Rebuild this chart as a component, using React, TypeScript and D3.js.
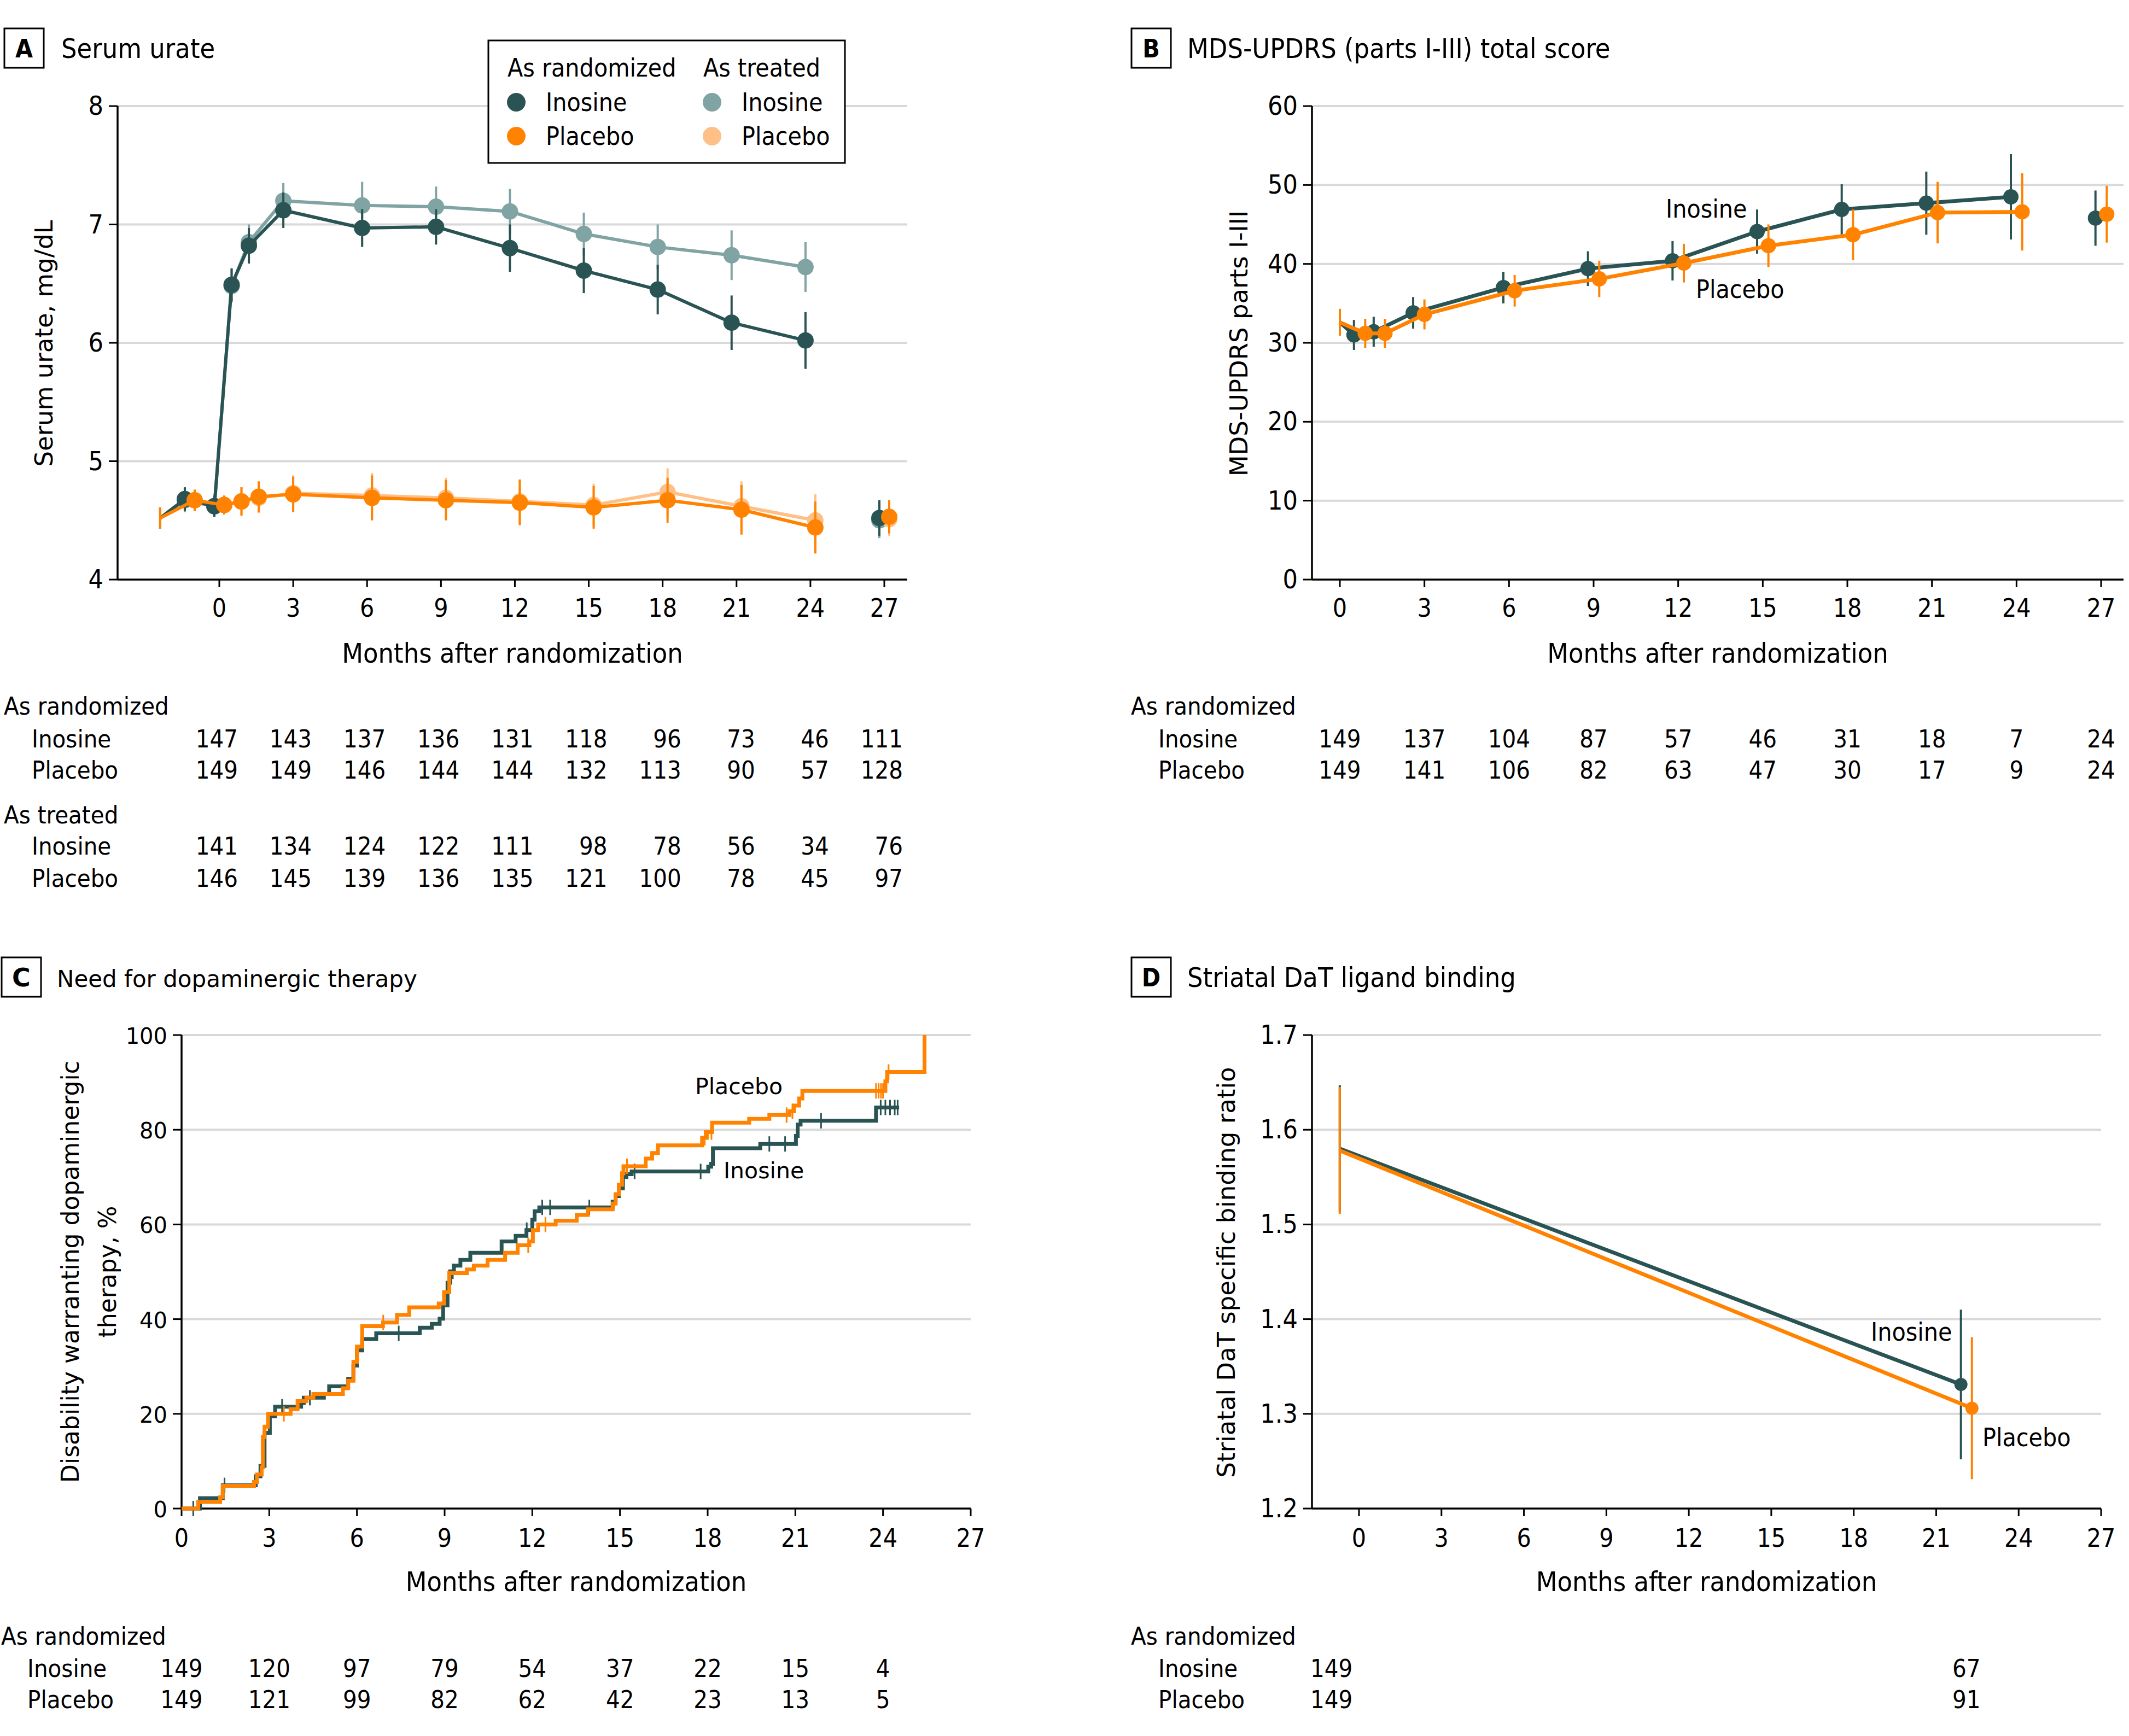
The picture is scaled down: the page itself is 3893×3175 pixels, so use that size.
import React from "react";
import * as d3 from "d3";

const W = 3893;
const H = 3175;
const COND = "'DejaVu Sans Condensed', 'Liberation Sans Narrow', 'DejaVu Sans', sans-serif";
const WIDE = "'DejaVu Sans', Verdana, sans-serif";
const DARK = "#2a5453";
const ORANGE = "#ff8300";
const TEAL_LIGHT = "#80a4a3";
const ORANGE_LIGHT = "#fec086";
const GRID = "#d9d9d9";

const monthTicks = [0, 3, 6, 9, 12, 15, 18, 21, 24, 27];

// A: serum urate
const urateMonthsIno = [-2.4, -1.4, -0.2, 0.5, 1.2, 2.6, 5.8, 8.8, 11.8, 14.8, 17.8, 20.8, 23.8];
const urateMonthsPla = [-2.4, -1.0, 0.2, 0.9, 1.6, 3.0, 6.2, 9.2, 12.2, 15.2, 18.2, 21.2, 24.2];
const urateInoRand = [4.52, 4.68, 4.62, 6.49, 6.82, 7.12, 6.97, 6.98, 6.8, 6.61, 6.45, 6.17, 6.02];
const urateInoRandErr = [0.09, 0.1, 0.09, 0.14, 0.15, 0.15, 0.16, 0.15, 0.2, 0.19, 0.21, 0.23, 0.24];
const urateInoTreat = [4.52, 4.67, 4.62, 6.48, 6.85, 7.2, 7.16, 7.15, 7.11, 6.92, 6.81, 6.74, 6.64];
const urateInoTreatErr = [0.09, 0.1, 0.09, 0.14, 0.15, 0.15, 0.2, 0.17, 0.19, 0.18, 0.19, 0.21, 0.21];
const uratePlaRand = [4.52, 4.67, 4.63, 4.66, 4.7, 4.72, 4.69, 4.67, 4.65, 4.61, 4.67, 4.59, 4.44];
const uratePlaRandErr = [0.09, 0.09, 0.08, 0.12, 0.13, 0.15, 0.19, 0.17, 0.19, 0.18, 0.19, 0.21, 0.22];
const uratePlaTreat = [4.52, 4.67, 4.63, 4.66, 4.69, 4.73, 4.71, 4.69, 4.66, 4.63, 4.74, 4.62, 4.5];
const uratePlaTreatErr = [0.09, 0.09, 0.08, 0.12, 0.13, 0.15, 0.19, 0.17, 0.19, 0.18, 0.2, 0.21, 0.22];
const urateEndMonths = [26.8, 27.2];
const urateEndRand = [4.52, 4.53];
const urateEndTreat = [4.5, 4.51];
const urateEndErr = [0.15, 0.14];

const tableAInoRand = [147, 143, 137, 136, 131, 118, 96, 73, 46, 111];
const tableAPlaRand = [149, 149, 146, 144, 144, 132, 113, 90, 57, 128];
const tableAInoTreat = [141, 134, 124, 122, 111, 98, 78, 56, 34, 76];
const tableAPlaTreat = [146, 145, 139, 136, 135, 121, 100, 78, 45, 97];

// B: MDS-UPDRS
const updrsMonthsIno = [0, 0.5, 1.2, 2.6, 5.8, 8.8, 11.8, 14.8, 17.8, 20.8, 23.8];
const updrsMonthsPla = [0, 0.9, 1.6, 3.0, 6.2, 9.2, 12.2, 15.2, 18.2, 21.2, 24.2];
const updrsIno = [32.6, 31.0, 31.4, 33.8, 37.0, 39.4, 40.4, 44.1, 46.9, 47.7, 48.5];
const updrsInoErr = [1.7, 1.9, 1.9, 2.0, 2.0, 2.2, 2.5, 2.8, 3.2, 4.0, 5.4];
const updrsPla = [32.6, 31.2, 31.2, 33.6, 36.6, 38.1, 40.1, 42.3, 43.7, 46.5, 46.6];
const updrsPlaErr = [1.7, 1.85, 1.85, 1.9, 2.0, 2.3, 2.45, 2.7, 3.2, 3.9, 4.9];
const updrsEnd = [45.8, 46.3];
const updrsEndErr = [3.5, 3.6];

const tableBIno = [149, 137, 104, 87, 57, 46, 31, 18, 7, 24];
const tableBPla = [149, 141, 106, 82, 63, 47, 30, 17, 9, 24];

// C: need for dopaminergic therapy (cumulative %)
const kmInoTimes = [0.63, 1.41, 2.54, 2.7, 2.84, 3.02, 3.2, 4.09, 4.18, 4.87, 5.05, 5.7, 5.88, 6.0, 6.18, 6.66, 8.15, 8.56, 8.83, 8.95, 9.1, 9.19, 9.32, 9.54, 9.88, 10.95, 11.43, 11.8, 12.0, 12.08, 12.24, 14.75, 14.85, 14.96, 15.1, 15.22, 15.4, 18.02, 18.12, 18.18, 19.8, 21.02, 21.08, 21.18, 23.76];
const kmInoPct = [2.2, 4.9, 6.8, 9.0, 16, 19.5, 21.5, 22.3, 23.4, 24.2, 25.8, 27.4, 30.2, 33.4, 35.8, 37.0, 38.2, 39.0, 40.1, 42.9, 47.7, 50.1, 51.3, 52.5, 54.0, 56.4, 57.6, 58.8, 61.0, 62.8, 63.6, 64.8, 66.0, 67.6, 70.0, 70.6, 71.2, 72.2, 72.8, 76.1, 77.0, 78.7, 81.1, 81.9, 84.7];
const kmInoEnd = 24.55;
const kmInoCensor = [0.4, 1.47, 3.44, 4.39, 7.43, 9.28, 11.81, 12.34, 12.61, 13.95, 15.5, 17.76, 20.11, 20.65, 21.88, 23.92, 24.08, 24.24, 24.4, 24.5];
const kmPlaTimes = [0.57, 1.32, 1.41, 2.48, 2.58, 2.74, 2.78, 2.84, 2.96, 3.73, 3.97, 4.27, 4.51, 5.52, 5.7, 5.88, 6.0, 6.18, 6.89, 7.37, 7.79, 8.8, 8.98, 9.16, 9.76, 10.0, 10.47, 11.07, 11.5, 11.9, 12.02, 12.2, 12.8, 13.52, 13.9, 14.75, 14.85, 14.96, 15.07, 15.12, 15.88, 16.1, 16.3, 17.81, 17.97, 18.15, 19.42, 20.11, 20.8, 20.96, 21.13, 21.24, 24.08, 24.14, 25.42];
const kmPlaPct = [1.4, 2.4, 4.8, 5.6, 7.2, 8.7, 15.1, 17.3, 20.0, 21.0, 22.7, 23.4, 24.2, 25.4, 27.0, 31.0, 34.2, 38.5, 39.3, 40.9, 42.5, 43.3, 45.7, 49.7, 50.5, 51.3, 52.5, 54.0, 55.6, 56.4, 58.8, 60.0, 60.8, 62.0, 63.2, 64.4, 66.4, 68.4, 70.8, 72.3, 73.9, 75.1, 76.7, 78.3, 79.5, 81.5, 82.3, 83.1, 83.9, 85.1, 86.6, 88.2, 90.2, 92.2, 100];
const kmPlaEnd = 25.42;
const kmPlaCensor = [3.5, 6.9, 11.86, 12.45, 15.24, 17.9, 18.13, 20.7, 20.9, 23.76, 23.85, 23.93, 24.0, 24.19];
const tableCMonths = [0, 3, 6, 9, 12, 15, 18, 21, 24];
const tableCIno = [149, 120, 97, 79, 54, 37, 22, 15, 4];
const tableCPla = [149, 121, 99, 82, 62, 42, 23, 13, 5];

// D: striatal DaT binding
const datMonthsIno = [-0.7, 21.9];
const datMonthsPla = [-0.7, 22.3];
const datIno = [1.58, 1.331];
const datInoErr = [0.067, 0.079];
const datPla = [1.578, 1.306];
const datPlaErr = [0.067, 0.075];
const tableDMonths = [-1, 22.1];
const tableDIno = [149, 67];
const tableDPla = [149, 91];

// scales
const xA = d3.scaleLinear().domain([0, 27]).range([401, 1617]);
const yA = d3.scaleLinear().domain([4, 8]).range([1060, 194]);
const xB = d3.scaleLinear().domain([0, 27]).range([2450, 3842]);
const yB = d3.scaleLinear().domain([0, 60]).range([1060, 194]);
const xC = d3.scaleLinear().domain([0, 27]).range([332, 1775]);
const yC = d3.scaleLinear().domain([0, 100]).range([2759, 1893]);
const xD = d3.scaleLinear().domain([0, 27]).range([2485, 3842]);
const yD = d3.scaleLinear().domain([1.2, 1.7]).range([2759, 1893]);

function Frame({ x, y, left, right, yTicks, fmt, tickFont, tickSize, xTitle, xTitleY, tickY }) {
  const [y0, y1] = y.range();
  return (
    <g>
      {yTicks.slice(1).map((t) => (
        <line key={"g" + t} x1={left} x2={right} y1={y(t)} y2={y(t)} stroke={GRID} strokeWidth={4} />
      ))}
      <line x1={left} x2={left} y1={y1} y2={y0} stroke="#000" strokeWidth={3.5} />
      <line x1={left} x2={right} y1={y0} y2={y0} stroke="#000" strokeWidth={3.5} />
      {yTicks.map((t) => (
        <g key={"y" + t}>
          <line x1={left - 16} x2={left} y1={y(t)} y2={y(t)} stroke="#000" strokeWidth={3} />
          <text x={left - 26} y={y(t) + 16} textAnchor="end" fontFamily={tickFont} fontSize={tickSize}>
            {fmt(t)}
          </text>
        </g>
      ))}
      {monthTicks.map((t) => (
        <g key={"x" + t}>
          <line x1={x(t)} x2={x(t)} y1={y0} y2={y0 + 14} stroke="#000" strokeWidth={3} />
          <text x={x(t)} y={tickY} textAnchor="middle" fontFamily={COND} fontSize={46}>
            {t}
          </text>
        </g>
      ))}
      <text x={(left + right) / 2} y={xTitleY} textAnchor="middle" fontFamily={COND} fontSize={50}>
        {xTitle}
      </text>
    </g>
  );
}

function Series({ xs, ys, errs, x, y, color, r, lw, ew, skipFirst, connect, opacity = 1 }) {
  const line = d3.line().x((d) => x(d[0])).y((d) => y(d[1]));
  const pts = xs.map((m, i) => [m, ys[i]]);
  return (
    <g opacity={opacity}>
      {connect && <path d={line(pts)} fill="none" stroke={color} strokeWidth={lw} strokeLinejoin="round" />}
      {xs.map((m, i) => (
        <line key={"e" + i} x1={x(m)} x2={x(m)} y1={y(ys[i] - errs[i])} y2={y(ys[i] + errs[i])} stroke={color} strokeWidth={ew} />
      ))}
      {xs.map((m, i) =>
        skipFirst && i === 0 ? null : <circle key={"c" + i} cx={x(m)} cy={y(ys[i])} r={r} fill={color} />
      )}
    </g>
  );
}

function Title({ bx, by, letter, text, letterFont, textFont, textSize, textX }) {
  return (
    <g>
      <rect x={bx} y={by} width={72} height={72} fill="#fff" stroke="#000" strokeWidth={3} />
      <text x={bx + 36} y={by + 53} textAnchor="middle" fontFamily={letterFont} fontWeight="bold" fontSize={46}>
        {letter}
      </text>
      <text x={textX} y={by + 54} fontFamily={textFont} fontSize={textSize}>
        {text}
      </text>
    </g>
  );
}

function YTitle({ x, cy, text, size = 45 }) {
  return (
    <text transform={`translate(${x},${cy}) rotate(-90)`} textAnchor="middle" fontFamily={WIDE} fontSize={size}>
      {text}
    </text>
  );
}

function Row({ label, lx, y, values, months, x, anchor, dx = 0 }) {
  return (
    <g fontFamily={COND} fontSize={45}>
      <text x={lx} y={y}>{label}</text>
      {values.map((v, i) => (
        <text key={i} x={x(months[i]) + dx} y={y} textAnchor={anchor}>
          {v}
        </text>
      ))}
    </g>
  );
}

function kmAt(times, pcts, t) {
  let v = 0;
  times.forEach((s, i) => {
    if (s <= t) v = pcts[i];
  });
  return v;
}

function KM({ times, pcts, end, censor, color }) {
  const pts = [[0, 0], ...times.map((t, i) => [t, pcts[i]]), [end, pcts[pcts.length - 1]]];
  const line = d3.line().x((d) => xC(d[0])).y((d) => yC(d[1])).curve(d3.curveStepAfter);
  return (
    <g>
      <path d={line(pts)} fill="none" stroke={color} strokeWidth={7} />
      {censor.map((t, i) => {
        const v = yC(kmAt(times, pcts, t));
        return <line key={i} x1={xC(t)} x2={xC(t)} y1={v - 14} y2={v + 14} stroke={color} strokeWidth={3} />;
      })}
    </g>
  );
}

export default function App() {
  const dec = (t) => d3.format(".1f")(t);
  const int = (t) => String(t);
  return (
    <svg width={W} height={H} style={{ position: "absolute", left: 0, top: 0, background: "#fff" }}>
      <rect width={W} height={H} fill="#fff" />

      {/* Panel A */}
      <Title bx={8} by={52} letter="A" text="Serum urate" letterFont={COND} textFont={COND} textSize={50} textX={112} />
      <Frame x={xA} y={yA} left={215} right={1659} yTicks={[4, 5, 6, 7, 8]} fmt={int} tickFont={COND} tickSize={48}
        xTitle="Months after randomization" xTitleY={1212} tickY={1128} />
      <YTitle x={96} cy={628} text="Serum urate, mg/dL" />
      <Series xs={urateMonthsIno} ys={urateInoTreat} errs={urateInoTreatErr} x={xA} y={yA} color={TEAL_LIGHT} r={15} lw={6} ew={4} skipFirst connect />
      <Series xs={urateMonthsPla} ys={uratePlaTreat} errs={uratePlaTreatErr} x={xA} y={yA} color={ORANGE_LIGHT} r={15} lw={6} ew={4} skipFirst connect />
      <Series xs={[urateEndMonths[0]]} ys={[urateEndTreat[0]]} errs={[urateEndErr[0]]} x={xA} y={yA} color={TEAL_LIGHT} r={15} lw={6} ew={4} />
      <Series xs={[urateEndMonths[1]]} ys={[urateEndTreat[1]]} errs={[urateEndErr[1]]} x={xA} y={yA} color={ORANGE_LIGHT} r={15} lw={6} ew={4} />
      <Series xs={urateMonthsIno} ys={urateInoRand} errs={urateInoRandErr} x={xA} y={yA} color={DARK} r={15} lw={6} ew={4} skipFirst connect />
      <Series xs={urateMonthsPla} ys={uratePlaRand} errs={uratePlaRandErr} x={xA} y={yA} color={ORANGE} r={15} lw={6} ew={4} skipFirst connect />
      <Series xs={[urateEndMonths[0]]} ys={[urateEndRand[0]]} errs={[urateEndErr[0]]} x={xA} y={yA} color={DARK} r={15} lw={6} ew={4} />
      <Series xs={[urateEndMonths[1]]} ys={[urateEndRand[1]]} errs={[urateEndErr[1]]} x={xA} y={yA} color={ORANGE} r={15} lw={6} ew={4} />

      {/* Legend A */}
      <g fontFamily={COND} fontSize={46}>
        <rect x={893} y={74} width={652} height={224} fill="#fff" stroke="#000" strokeWidth={3} />
        <text x={928} y={140}>As randomized</text>
        <text x={1286} y={140}>As treated</text>
        <circle cx={944} cy={187} r={17} fill={DARK} />
        <text x={998} y={203}>Inosine</text>
        <circle cx={944} cy={249} r={17} fill={ORANGE} />
        <text x={998} y={265}>Placebo</text>
        <circle cx={1302} cy={187} r={17} fill={TEAL_LIGHT} />
        <text x={1356} y={203}>Inosine</text>
        <circle cx={1302} cy={249} r={17} fill={ORANGE_LIGHT} />
        <text x={1356} y={265}>Placebo</text>
      </g>

      {/* Table A */}
      <text x={7} y={1307} fontFamily={COND} fontSize={45}>As randomized</text>
      <Row label="Inosine" lx={58} y={1367} values={tableAInoRand} months={monthTicks} x={xA} anchor="end" dx={34} />
      <Row label="Placebo" lx={58} y={1424} values={tableAPlaRand} months={monthTicks} x={xA} anchor="end" dx={34} />
      <text x={7} y={1506} fontFamily={COND} fontSize={45}>As treated</text>
      <Row label="Inosine" lx={58} y={1563} values={tableAInoTreat} months={monthTicks} x={xA} anchor="end" dx={34} />
      <Row label="Placebo" lx={58} y={1622} values={tableAPlaTreat} months={monthTicks} x={xA} anchor="end" dx={34} />

      {/* Panel B */}
      <Title bx={2069} by={52} letter="B" text="MDS-UPDRS (parts I-III) total score" letterFont={COND} textFont={COND} textSize={50} textX={2171} />
      <Frame x={xB} y={yB} left={2399} right={3883} yTicks={[0, 10, 20, 30, 40, 50, 60]} fmt={int} tickFont={COND} tickSize={48}
        xTitle="Months after randomization" xTitleY={1212} tickY={1128} />
      <YTitle x={2281} cy={628} text="MDS-UPDRS parts I-III" />
      <Series xs={updrsMonthsIno} ys={updrsIno} errs={updrsInoErr} x={xB} y={yB} color={DARK} r={14} lw={7} ew={4} skipFirst connect />
      <Series xs={[urateEndMonths[0]]} ys={[updrsEnd[0]]} errs={[updrsEndErr[0]]} x={xB} y={yB} color={DARK} r={14} lw={7} ew={4} />
      <Series xs={updrsMonthsPla} ys={updrsPla} errs={updrsPlaErr} x={xB} y={yB} color={ORANGE} r={14} lw={7} ew={4} skipFirst connect />
      <Series xs={[urateEndMonths[1]]} ys={[updrsEnd[1]]} errs={[updrsEndErr[1]]} x={xB} y={yB} color={ORANGE} r={14} lw={7} ew={4} />
      <text x={3046} y={398} fontFamily={COND} fontSize={46}>Inosine</text>
      <text x={3101} y={545} fontFamily={COND} fontSize={46}>Placebo</text>

      {/* Table B */}
      <text x={2068} y={1307} fontFamily={COND} fontSize={45}>As randomized</text>
      <Row label="Inosine" lx={2118} y={1367} values={tableBIno} months={monthTicks} x={xB} anchor="middle" />
      <Row label="Placebo" lx={2118} y={1424} values={tableBPla} months={monthTicks} x={xB} anchor="middle" />

      {/* Panel C */}
      <Title bx={3} by={1751} letter="C" text="Need for dopaminergic therapy" letterFont={WIDE} textFont={WIDE} textSize={42} textX={104} />
      <Frame x={xC} y={yC} left={332} right={1775} yTicks={[0, 20, 40, 60, 80, 100]} fmt={int} tickFont={WIDE} tickSize={40}
        xTitle="Months after randomization" xTitleY={2910} tickY={2829} />
      <YTitle x={144} cy={2326} text="Disability warranting dopaminergic" size={44} />
      <YTitle x={212} cy={2326} text="therapy, %" size={44} />
      <KM times={kmInoTimes} pcts={kmInoPct} end={kmInoEnd} censor={kmInoCensor} color={DARK} />
      <KM times={kmPlaTimes} pcts={kmPlaPct} end={kmPlaEnd} censor={kmPlaCensor} color={ORANGE} />
      <text x={1271} y={2001} fontFamily={WIDE} fontSize={41}>Placebo</text>
      <text x={1323} y={2155} fontFamily={WIDE} fontSize={41}>Inosine</text>

      {/* Table C */}
      <text x={2} y={3008} fontFamily={COND} fontSize={45}>As randomized</text>
      <Row label="Inosine" lx={50} y={3067} values={tableCIno} months={tableCMonths} x={xC} anchor="middle" />
      <Row label="Placebo" lx={50} y={3124} values={tableCPla} months={tableCMonths} x={xC} anchor="middle" />

      {/* Panel D */}
      <Title bx={2069} by={1751} letter="D" text="Striatal DaT ligand binding" letterFont={COND} textFont={COND} textSize={50} textX={2171} />
      <Frame x={xD} y={yD} left={2399} right={3842} yTicks={[1.2, 1.3, 1.4, 1.5, 1.6, 1.7]} fmt={dec} tickFont={COND} tickSize={48}
        xTitle="Months after randomization" xTitleY={2910} tickY={2829} />
      <YTitle x={2258} cy={2327} text="Striatal DaT specific binding ratio" />
      <Series xs={datMonthsIno} ys={datIno} errs={datInoErr} x={xD} y={yD} color={DARK} r={12} lw={7} ew={4} skipFirst connect />
      <Series xs={datMonthsPla} ys={datPla} errs={datPlaErr} x={xD} y={yD} color={ORANGE} r={12} lw={7} ew={4} skipFirst connect />
      <text x={3421} y={2452} fontFamily={COND} fontSize={46}>Inosine</text>
      <text x={3625} y={2645} fontFamily={COND} fontSize={46}>Placebo</text>

      {/* Table D */}
      <text x={2068} y={3008} fontFamily={COND} fontSize={45}>As randomized</text>
      <Row label="Inosine" lx={2118} y={3067} values={tableDIno} months={tableDMonths} x={xD} anchor="middle" />
      <Row label="Placebo" lx={2118} y={3124} values={tableDPla} months={tableDMonths} x={xD} anchor="middle" />
    </svg>
  );
}
